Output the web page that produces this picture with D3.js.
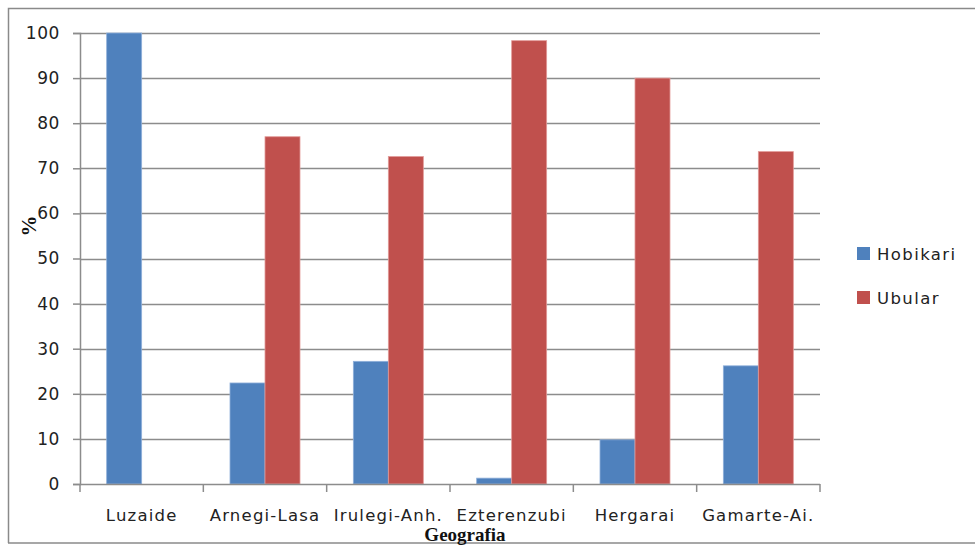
<!DOCTYPE html>
<html>
<head>
<meta charset="utf-8">
<script src="https://cdn.jsdelivr.net/npm/d3@7"></script>
<style>
  html, body { margin: 0; padding: 0; background: #fff; }
  svg { display: block; }
</style>
</head>
<body>
<svg id="chart" width="975" height="546"></svg>
<script>
// Data
const categories = ["Luzaide", "Arnegi-Lasa", "Irulegi-Anh.", "Ezterenzubi", "Hergarai", "Gamarte-Ai."];
const seriesNames = ["Hobikari", "Ubular"];
const hobikari = [100, 22.4, 27.2, 1.3, 9.8, 26.2];
const ubular = [0, 77.0, 72.6, 98.3, 90.0, 73.7];
const yTicks = [0, 10, 20, 30, 40, 50, 60, 70, 80, 90, 100];
const colors = ["#4F81BD", "#C0504D"];
const edgeColors = ["#8fb0da", "#e29a98"];

const svg = d3.select("#chart");
const W = 975, H = 546;
const plot = { left: 80, right: 820, top: 33, bottom: 484 };
const labelFont = "DejaVu Sans, sans-serif";

// Outer frame
svg.append("path")
  .attr("d", `M8.5,${H - 3}V8.5H${W}`)
  .attr("fill", "none").attr("stroke", "#8a8a8a").attr("stroke-width", 1.5);
svg.append("line")
  .attr("x1", 8).attr("x2", W).attr("y1", H - 3).attr("y2", H - 3)
  .attr("stroke", "#8a8a8a").attr("stroke-width", 1.5);

const y = d3.scaleLinear().domain([0, 100]).range([plot.bottom, plot.top]);
const x0 = d3.scaleBand().domain(categories).range([plot.left, plot.right]).paddingInner(0).paddingOuter(0);
const x1 = d3.scaleBand().domain(seriesNames).range([0, x0.bandwidth()]).paddingInner(0).paddingOuter(0.762);

// Gridlines
svg.append("g")
  .selectAll("line")
  .data(yTicks.filter(t => t > 0))
  .join("line")
  .attr("x1", plot.left).attr("x2", plot.right)
  .attr("y1", d => Math.round(y(d)) + 0.5).attr("y2", d => Math.round(y(d)) + 0.5)
  .attr("stroke", "#8c8c8c").attr("stroke-width", 1.5);

// Bars
const rows = categories.map((c, i) => ({ cat: c, vals: [hobikari[i], ubular[i]] }));
const groups = svg.append("g").selectAll("g")
  .data(rows).join("g")
  .attr("transform", d => `translate(${x0(d.cat)},0)`);
groups.selectAll("rect")
  .data(d => d.vals.map((v, k) => ({ name: seriesNames[k], v, k })))
  .join("rect")
  .attr("x", d => x1(d.name))
  .attr("width", x1.bandwidth())
  .attr("y", d => y(d.v))
  .attr("height", d => y(0) - y(d.v))
  .attr("fill", d => colors[d.k])
  .attr("stroke", d => d.v > 0 ? edgeColors[d.k] : "none")
  .attr("stroke-width", 0.8);

// Y axis
const yAxis = svg.append("g")
  .attr("transform", `translate(${plot.left},0)`)
  .call(d3.axisLeft(y).tickValues(yTicks).tickSize(7).tickPadding(13));
yAxis.select(".domain").attr("stroke", "#8c8c8c").attr("stroke-width", 1.5);
yAxis.selectAll(".tick line").attr("stroke", "#8c8c8c").attr("stroke-width", 1.5);
yAxis.selectAll(".tick text")
  .attr("font-family", labelFont)
  .attr("font-size", 17).attr("letter-spacing", 0.6).attr("fill", "#222");

// X axis with ticks at category boundaries
const xAxis = svg.append("g")
  .attr("transform", `translate(0,${plot.bottom})`);
xAxis.append("line")
  .attr("x1", plot.left).attr("x2", plot.right).attr("y1", 0.5).attr("y2", 0.5)
  .attr("stroke", "#8c8c8c").attr("stroke-width", 1.5);
const bounds = categories.map(c => x0(c)).concat([plot.right]);
xAxis.selectAll(".bt").data(bounds).join("line")
  .attr("class", "bt")
  .attr("x1", d => d).attr("x2", d => d).attr("y1", 0).attr("y2", 8)
  .attr("stroke", "#8c8c8c").attr("stroke-width", 1.5);
xAxis.selectAll(".cl").data(categories).join("text")
  .attr("class", "cl")
  .attr("x", d => x0(d) + x0.bandwidth() / 2)
  .attr("y", 37)
  .attr("text-anchor", "middle")
  .attr("font-family", labelFont)
  .attr("font-size", 16.5).attr("letter-spacing", 1.2).attr("fill", "#222")
  .text(d => d);

// Axis titles
svg.append("text")
  .attr("transform", "translate(36,226) rotate(-90)")
  .attr("text-anchor", "middle")
  .attr("font-family", "Liberation Serif, serif")
  .attr("font-weight", "bold").attr("font-size", 21).attr("fill", "#111")
  .text("%");
svg.append("text")
  .attr("x", 465).attr("y", 541)
  .attr("text-anchor", "middle")
  .attr("font-family", "Liberation Serif, serif")
  .attr("font-weight", "bold").attr("font-size", 19).attr("fill", "#111")
  .text("Geografia");

// Legend
const legend = svg.append("g").attr("transform", "translate(857,0)");
const legY = [254, 298];
seriesNames.forEach((n, i) => {
  legend.append("rect")
    .attr("x", 0).attr("y", legY[i] - 7).attr("width", 13).attr("height", 13)
    .attr("fill", colors[i]);
  legend.append("text")
    .attr("x", 20).attr("y", legY[i]).attr("dy", "0.35em")
    .attr("font-family", labelFont)
    .attr("font-size", 16.5).attr("fill", "#222")
    .attr("letter-spacing", 1.4)
    .text(n);
});
</script>
</body>
</html>
